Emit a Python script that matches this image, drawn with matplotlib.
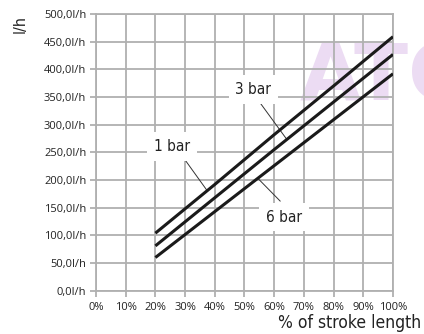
import numpy as np
import matplotlib
matplotlib.use("Agg")
import matplotlib.pyplot as plt

# stroke length (%) and flow (l/h)
stroke = [20, 40, 60, 80, 100]
flow_1bar = [104, 192, 282, 370, 459]
flow_3bar = [81, 168, 255, 341, 427]
flow_6bar = [60, 143, 226, 309, 392]

x_ticks = [0, 10, 20, 30, 40, 50, 60, 70, 80, 90, 100]
y_ticks = [0, 50, 100, 150, 200, 250, 300, 350, 400, 450, 500]

narrow = dict(family='DejaVu Sans', stretch='condensed')
grid_col = '#b0b0b0'

fig = plt.figure(figsize=(4.24, 3.34), dpi=100)
ax = fig.add_axes([0.2264, 0.1296, 0.7005, 0.8285])
ax.patch.set_alpha(0)

# faint watermark, under the grid
ax.text(0.685, 0.69, 'ATC', transform=ax.transAxes, fontsize=57,
        fontweight='bold', color='#ecdcf3', family='DejaVu Sans',
        zorder=0.5, clip_on=False, va='baseline')

for f in [flow_1bar, flow_3bar, flow_6bar]:
    ax.plot(stroke, f, color='#1a1a1a', lw=2.2, solid_capstyle='butt', zorder=4)

ax.set_xlim(0, 100)
ax.set_ylim(0, 500)
ax.set_xticks(x_ticks)
ax.set_yticks(y_ticks)
ax.set_xticklabels(['%d%%' % v for v in x_ticks])
ax.set_yticklabels(['%d,0l/h' % v for v in y_ticks])
ax.set_axisbelow(True)
ax.grid(True, color=grid_col, lw=1.3, zorder=1)
for sp in ax.spines.values():
    sp.set_color(grid_col)
    sp.set_linewidth(1.3)
ax.tick_params(colors=grid_col, length=4, width=1.3, labelsize=8,
               labelcolor='#222222', pad=3)
ax.tick_params(axis='x', pad=4)
for t in ax.get_xticklabels() + ax.get_yticklabels():
    t.set_family(['Open Sans', 'DejaVu Sans'])

def lab(txt, tx, ty, lx0, ly0, lx1, ly1):
    ax.plot([lx0, lx1], [ly0, ly1], color='#333333', lw=0.7, zorder=3)
    ax.text(tx, ty, txt, ha='center', va='center', fontsize=11,
            color='#222222', zorder=5,
            bbox=dict(boxstyle='square,pad=0.45', fc='white', ec='none'),
            **narrow)

lab('1 bar', 25.5, 261, 30.3, 234, 37.4, 181)
lab('3 bar', 53.0, 363, 54.5, 345, 64.3, 273)
lab('6 bar', 63.3, 133, 54.5, 203, 62.0, 162)

fig.text(20/424, 1-24/334, 'l/h', rotation=90, ha='center', va='center',
         fontsize=11.5, color='#222222', **narrow)
fig.text(421/424, 1-323/334, '% of stroke length', ha='right', va='center',
         fontsize=12.5, color='#222222', **narrow)

fig.savefig('out.png', dpi=100, facecolor='white')
